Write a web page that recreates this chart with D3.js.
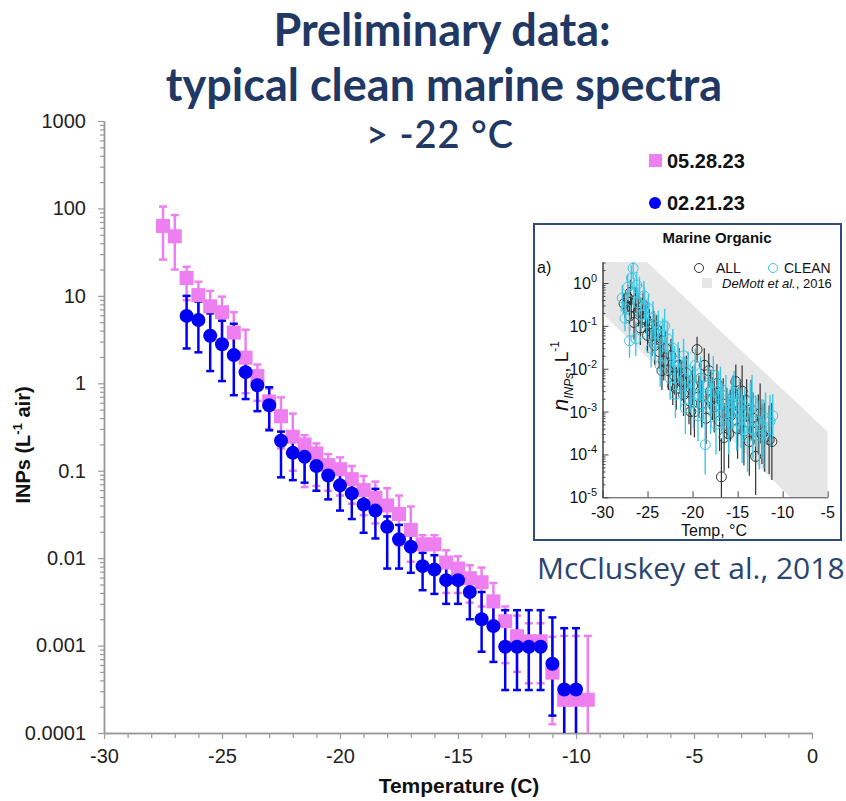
<!DOCTYPE html>
<html>
<head>
<meta charset="utf-8">
<script src="https://cdn.jsdelivr.net/npm/d3@7"></script>
<style>
  body { margin: 0; background: #fff; }
  svg { display: block; }
  .tick text { font-family: "Liberation Sans", Arial, sans-serif; fill: #222; }
</style>
</head>
<body>
<svg width="846" height="801"></svg>
<script>
// ---- main chart data: 05.28.23 (pink squares) ----
var pinkTemps = [-27.5, -27, -26.5, -26, -25.5, -25, -24.5, -24, -23.5, -23, -22.5, -22, -21.5, -21, -20.5, -20,
  -19.5, -19, -18.5, -18, -17.5, -17, -16.5, -16, -15.5, -15, -14.5, -14, -13.5, -13, -12.5, -12, -11.5, -11,
  -10.5, -10, -9.5];
var pinkValues = [63, 48, 16, 10.2, 7.6, 6.5, 3.8, 1.96, 1.21, 0.62, 0.42, 0.245, 0.20, 0.158, 0.116, 0.104,
  0.080, 0.060, 0.049, 0.040, 0.032, 0.021, 0.0144, 0.0144, 0.0089, 0.0076, 0.0059, 0.0053, 0.0032, 0.0019,
  0.00128, 0.00112, 0.00112, 0.00049, 0.00024, 0.00024, 0.00024];
var pinkUpper = [105, 84, 21.5, 14.5, 11.4, 9.8, 6.5, 4.1, 1.64, 0.87, 0.69, 0.45, 0.255, 0.205, 0.155, 0.142,
  0.113, 0.087, 0.075, 0.063, 0.052, 0.039, 0.0183, 0.0183, 0.0123, 0.0105, 0.0083, 0.0078, 0.0052, 0.0028,
  0.0022, 0.0018, 0.0018, 0.00126, 0.00129, 0.00129, 0.00129];
var pinkLower = [26, 20, 8.9, 5.6, 4.0, 3.2, 2.0, 0.77, 0.63, 0.30, 0.18, 0.10, 0.065, 0.067, 0.059, 0.052,
  0.042, 0.031, 0.025, 0.020, 0.014, 0.0091, 0.0079, 0.0079, 0.0040, 0.0040, 0.0031, 0.0028, 0.0016, 0.00063,
  0.0005, 0.00037, 0.00037, 0.000126, 0.0001, 0.0001, 0.0001];

// ---- main chart data: 02.21.23 (blue circles) ----
var blueTemps = [-26.5, -26, -25.5, -25, -24.5, -24, -23.5, -23, -22.5, -22, -21.5, -21, -20.5, -20, -19.5, -19,
  -18.5, -18, -17.5, -17, -16.5, -16, -15.5, -15, -14.5, -14, -13.5, -13, -12.5, -12, -11.5, -11, -10.5, -10];
var blueValues = [5.9, 5.3, 3.5, 2.8, 2.1, 1.34, 0.95, 0.56, 0.22, 0.16, 0.144, 0.113, 0.088, 0.068, 0.055, 0.041,
  0.035, 0.0228, 0.0164, 0.0135, 0.0081, 0.0074, 0.0056, 0.0056, 0.0041, 0.0020, 0.00167, 0.00097, 0.00097,
  0.00097, 0.00097, 0.00062, 0.000315, 0.000315];
var blueUpper = [10, 8.6, 6.3, 5.2, 4.8, 2.1, 1.26, 0.90, 0.28, 0.22, 0.20, 0.158, 0.126, 0.10, 0.079, 0.060,
  0.062, 0.030, 0.024, 0.019, 0.0115, 0.0108, 0.0079, 0.0079, 0.0054, 0.0041, 0.0028, 0.00254, 0.00254,
  0.00254, 0.00254, 0.0021, 0.00158, 0.00158];
var blueLower = [2.5, 2.26, 1.38, 1.06, 0.73, 0.66, 0.48, 0.29, 0.084, 0.078, 0.073, 0.059, 0.047, 0.035, 0.028,
  0.0195, 0.0168, 0.0076, 0.0076, 0.0068, 0.0043, 0.0039, 0.0030, 0.0030, 0.0020, 0.00085, 0.00065, 0.00031,
  0.00031, 0.00031, 0.00031, 0.000158, 0.0001, 0.0001];

var yTicks = [0.0001, 0.001, 0.01, 0.1, 1, 10, 100, 1000];
var yTickLabels = ["0.0001", "0.001", "0.01", "0.1", "1", "10", "100", "1000"];
var xTicks = [-30, -25, -20, -15, -10, -5, 0];
var xTickLabels = ["-30", "-25", "-20", "-15", "-10", "-5", "0"];

// ---- inset (McCluskey et al., 2018) data ----
var allTemps = [-27.6, -27.2, -27.0, -26.8, -26.5, -26.3, -26.0, -25.8, -25.5, -25.2, -25.0, -24.8, -24.5, -24.2,
  -24.0, -23.7, -23.5, -23.2, -23.0, -22.7, -22.4, -22.0, -21.8, -21.5, -21.2, -21.0, -20.7, -20.4, -20.0, -19.8,
  -19.5, -19.3, -19.0, -18.7, -18.5, -18.2, -18.0, -17.6, -17.3, -17.0, -16.8, -16.5, -16.2, -16.0, -15.5, -15.2,
  -15.0, -14.7, -14.3, -14.0, -13.7, -13.3, -13.0, -12.7, -12.3, -12.0, -11.5, -11.2,
  -26.9, -25.6, -24.3, -23.4, -22.2, -21.4, -20.2, -19.1, -17.8, -16.6, -15.8, -14.5, -13.5, -12.5];
var allValues = [0.33, 0.45, 0.17, 0.28, 0.12, 0.40, 0.22, 0.09, 0.30, 0.15, 0.06, 0.11, 0.05, 0.035, 0.08, 0.025,
  0.045, 0.015, 0.03, 0.009, 0.02, 0.007, 0.0035, 0.012, 0.005, 0.0025, 0.008, 0.0018, 0.004, 0.001, 0.028, 0.0022,
  0.0015, 0.012, 0.0007, 0.009, 0.003, 0.0013, 0.0045, 0.0006, 0.00003, 0.00025, 0.0009, 0.0003, 0.0022, 0.005,
  0.0004, 0.0012, 0.00035, 0.0018, 0.0002, 0.0007, 0.00009, 0.0005, 0.0003, 0.00025, 0.00022, 0.0002,
  0.6, 0.2, 0.1, 0.009, 0.004, 0.0065, 0.001, 0.006, 0.002, 0.0015, 0.0008, 0.003, 0.0011, 0.0009];
var allErr = [0.25, 0.3, 0.35, 0.3, 0.4, 0.3, 0.35, 0.4, 0.3, 0.35, 0.4, 0.35, 0.4, 0.45, 0.35, 0.4, 0.35, 0.45,
  0.4, 0.45, 0.4, 0.45, 0.5, 0.4, 0.45, 0.5, 0.4, 0.55, 0.45, 0.6, 0.3, 0.5, 0.55, 0.4, 0.6, 0.4, 0.5, 0.6, 0.45,
  0.7, 0.9, 0.8, 0.6, 0.8, 0.5, 0.4, 0.7, 0.6, 0.8, 0.5, 0.8, 0.6, 0.9, 0.7, 0.7, 0.8, 0.8, 0.9,
  0.3, 0.35, 0.35, 0.45, 0.45, 0.4, 0.55, 0.4, 0.5, 0.6, 0.6, 0.6, 0.7, 0.7];

var cleanTemps = [-27.8, -27.4, -27.2, -27.0, -26.8, -26.6, -26.5, -26.3, -26.1, -25.9, -25.7, -25.4, -25.1, -24.9,
  -24.6, -24.4, -24.1, -23.8, -23.6, -23.3, -23.0, -22.8, -22.5, -22.2, -21.9, -21.6, -21.3, -21.0, -20.8, -20.5,
  -20.2, -19.9, -19.7, -19.4, -19.1, -18.8, -18.6, -18.3, -18.0, -17.7, -17.4, -17.1, -16.9, -16.6, -16.3, -16.0,
  -15.7, -15.4, -15.1, -14.8, -14.5, -14.2, -13.9, -13.6, -13.3, -13.0, -12.6, -12.3, -11.9, -11.4, -11.1,
  -27.5, -26.2, -25.3, -24.2, -23.1, -22.0, -20.9, -19.8, -18.9, -17.9, -16.8, -15.6, -14.6, -13.4, -12.1];
var cleanValues = [0.45, 0.25, 0.8, 0.045, 1.3, 2.2, 0.6, 0.05, 0.35, 0.7, 0.18, 0.5, 0.12, 0.25, 0.03, 0.15,
  0.07, 0.1, 0.012, 0.06, 0.02, 0.05, 0.006, 0.03, 0.0025, 0.015, 0.004, 0.02, 0.0012, 0.009, 0.003, 0.0016, 0.012,
  0.0008, 0.006, 0.0022, 0.00017, 0.004, 0.0012, 0.007, 0.0005, 0.0025, 0.0035, 0.0009, 0.0018, 0.0005, 0.001,
  0.0028, 0.0006, 0.0015, 0.0004, 0.0009, 0.00025, 0.0012, 0.0004, 0.0006, 0.00028, 0.0004, 0.0007, 0.0006, 0.0008,
  0.15, 0.9, 0.3, 0.04, 0.1, 0.012, 0.006, 0.004, 0.0015, 0.003, 0.0012, 0.0016, 0.0007, 0.0018, 0.0003];
var cleanErr = [0.3, 0.35, 0.3, 0.4, 0.3, 0.25, 0.35, 0.4, 0.35, 0.3, 0.4, 0.35, 0.4, 0.35, 0.45, 0.4, 0.4, 0.35,
  0.5, 0.4, 0.45, 0.4, 0.5, 0.45, 0.55, 0.45, 0.5, 0.4, 0.6, 0.45, 0.5, 0.6, 0.4, 0.6, 0.5, 0.55, 0.7, 0.5, 0.6,
  0.45, 0.7, 0.55, 0.5, 0.65, 0.6, 0.7, 0.6, 0.5, 0.7, 0.6, 0.8, 0.6, 0.8, 0.6, 0.7, 0.6, 0.8, 0.7, 0.6, 0.6, 0.5,
  0.3, 0.3, 0.35, 0.4, 0.4, 0.45, 0.5, 0.5, 0.55, 0.5, 0.6, 0.6, 0.7, 0.6, 0.8];

var demottTemps = [-30, -5];
var demottUpper = [29, 0.00034];
var demottLower = [0.195, 0.0000014];

var insetYTicks = [1, 0.1, 0.01, 0.001, 0.0001, 0.00001];
var insetYExp = ["0", "-1", "-2", "-3", "-4", "-5"];
var insetXTicks = [-30, -25, -20, -15, -10, -5];

var navy = "#1f3864";
var pink = "#ee7ff0";
var blue = "#0000f5";
var cyan = "#3cc8e6";

var svg = d3.select("svg");

// ---- titles ----
var titleFont = "Lato, 'Noto Sans', sans-serif";
svg.append("text").attr("x", 442).attr("y", 46).attr("text-anchor", "middle")
  .style("font-family", titleFont).style("font-weight", "bold")
  .style("font-size", "45px").style("fill", navy).text("Preliminary data:");
svg.append("text").attr("x", 444).attr("y", 101).attr("text-anchor", "middle")
  .style("font-family", titleFont).style("font-weight", "bold")
  .style("font-size", "45px").style("fill", navy).text("typical clean marine spectra");
svg.append("text").attr("x", 440).attr("y", 148).attr("text-anchor", "middle")
  .style("font-family", titleFont).style("font-weight", "600")
  .style("font-size", "38px").style("letter-spacing", "1px").style("fill", navy).text("> -22 °C");

// ---- main chart ----
var x = d3.scaleLinear().domain([-30, 0]).range([104, 812]);
var y = d3.scaleLog().domain([1e-4, 1e3]).range([733, 121]);

var minorY = [];
yTicks.slice(0, -1).forEach(function(d) {
  for (var k = 2; k <= 9; k++) minorY.push(d * k);
});
var minorX = d3.range(-30, 1, 1).filter(function(d) { return d % 5 !== 0; });

var axisStyle = function(g) {
  g.select(".domain").attr("stroke", "#999").attr("stroke-width", 1.5);
  g.selectAll(".tick line").attr("stroke", "#999").attr("stroke-width", 1.2);
};

svg.append("g").attr("transform", "translate(104,0)")
  .call(d3.axisLeft(y).tickValues(minorY).tickFormat("").tickSize(4).tickSizeOuter(0))
  .call(axisStyle);
svg.append("g").attr("transform", "translate(104,0)")
  .call(d3.axisLeft(y).tickValues(yTicks).tickSize(6).tickPadding(12).tickSizeOuter(0)
    .tickFormat(function(d, i) { return yTickLabels[i]; }))
  .call(axisStyle)
  .selectAll("text").style("font-size", "20px");

svg.append("g").attr("transform", "translate(0,733)")
  .call(d3.axisBottom(x).tickValues(minorX).tickFormat("").tickSize(5).tickSizeOuter(0))
  .call(axisStyle);
svg.append("g").attr("transform", "translate(0,733)")
  .call(d3.axisBottom(x).tickValues(xTicks).tickSize(6).tickPadding(10).tickSizeOuter(0)
    .tickFormat(function(d, i) { return xTickLabels[i]; }))
  .call(axisStyle)
  .selectAll("text").style("font-size", "20px");

// axis titles
var sans = "'Liberation Sans', Arial, sans-serif";
svg.append("text").attr("transform", "translate(30,445) rotate(-90)").attr("text-anchor", "middle")
  .style("font-family", sans).style("font-weight", "bold")
  .style("font-size", "20px").style("fill", "#111")
  .call(function(t) {
    t.append("tspan").text("INPs (L");
    t.append("tspan").attr("dy", -8).style("font-size", "13px").text("-1");
    t.append("tspan").attr("dy", 8).text(" air)");
  });
svg.append("text").attr("x", 459).attr("y", 793).attr("text-anchor", "middle")
  .style("font-family", sans).style("font-weight", "bold")
  .style("font-size", "21px").style("fill", "#111").text("Temperature (C)");

function series(temps, values) {
  return temps.map(function(t, i) { return { t: t, v: values[i], i: i }; });
}
var pinkData = series(pinkTemps, pinkValues);
var blueData = series(blueTemps, blueValues);

function errorBars(data, lower, upper, color) {
  var g = svg.append("g").attr("stroke", color).attr("stroke-width", 2.5);
  g.selectAll(".bar").data(data).enter().append("line")
    .attr("x1", function(d) { return x(d.t); }).attr("x2", function(d) { return x(d.t); })
    .attr("y1", function(d) { return y(lower[d.i]); })
    .attr("y2", function(d) { return y(upper[d.i]); });
  g.selectAll(".capHi").data(data).enter().append("line")
    .attr("x1", function(d) { return x(d.t) - 4; }).attr("x2", function(d) { return x(d.t) + 4; })
    .attr("y1", function(d) { return y(upper[d.i]); }).attr("y2", function(d) { return y(upper[d.i]); });
  g.selectAll(".capLo").data(data.filter(function(d) { return lower[d.i] > 1e-4; })).enter().append("line")
    .attr("x1", function(d) { return x(d.t) - 4; }).attr("x2", function(d) { return x(d.t) + 4; })
    .attr("y1", function(d) { return y(lower[d.i]); }).attr("y2", function(d) { return y(lower[d.i]); });
}

errorBars(pinkData, pinkLower, pinkUpper, pink);
errorBars(blueData, blueLower, blueUpper, blue);

svg.append("g").selectAll("rect").data(pinkData).enter().append("rect")
  .attr("x", function(d) { return x(d.t) - 7; }).attr("y", function(d) { return y(d.v) - 7; })
  .attr("width", 14).attr("height", 14).attr("fill", pink);
svg.append("g").selectAll("circle").data(blueData).enter().append("circle")
  .attr("cx", function(d) { return x(d.t); }).attr("cy", function(d) { return y(d.v); })
  .attr("r", 7).attr("fill", blue);

// legend
svg.append("rect").attr("x", 649).attr("y", 154).attr("width", 13).attr("height", 13).attr("fill", pink);
svg.append("text").attr("x", 667).attr("y", 168)
  .style("font-family", sans).style("font-weight", "bold")
  .style("font-size", "20px").style("fill", "#111").text("05.28.23");
svg.append("circle").attr("cx", 655).attr("cy", 203).attr("r", 6).attr("fill", blue);
svg.append("text").attr("x", 667).attr("y", 210)
  .style("font-family", sans).style("font-weight", "bold")
  .style("font-size", "20px").style("fill", "#111").text("02.21.23");

// ---- inset ----
svg.append("rect").attr("x", 534).attr("y", 224).attr("width", 307).attr("height", 316)
  .attr("fill", "#fff").attr("stroke", "#2f4b7c").attr("stroke-width", 2);

var ix = d3.scaleLinear().domain([-30, -5]).range([602.5, 827.7]);
var iy = d3.scaleLog().domain([1e-5, Math.pow(10, 0.49)]).range([497.3, 262]);

svg.append("clipPath").attr("id", "insetClip").append("rect")
  .attr("x", 602.5).attr("y", 262).attr("width", 225.2).attr("height", 235.3);

var band = d3.area()
  .x(function(d) { return ix(d.t); })
  .y0(function(d) { return iy(d.lo); })
  .y1(function(d) { return iy(d.hi); });
var bandData = demottTemps.map(function(t, i) { return { t: t, lo: demottLower[i], hi: demottUpper[i] }; });

var inset = svg.append("g");
inset.append("path").datum(bandData).attr("d", band).attr("fill", "#e6e6e6")
  .attr("clip-path", "url(#insetClip)");

function insetSeries(temps, values, errs, color, width) {
  var data = temps.map(function(t, i) { return { t: t, v: values[i], e: errs[i] }; });
  var g = inset.append("g").attr("clip-path", "url(#insetClip)");
  g.selectAll("line").data(data).enter().append("line")
    .attr("x1", function(d) { return ix(d.t); }).attr("x2", function(d) { return ix(d.t); })
    .attr("y1", function(d) { return iy(d.v / Math.pow(10, d.e)); })
    .attr("y2", function(d) { return iy(d.v * Math.pow(10, d.e)); })
    .attr("stroke", color).attr("stroke-width", width);
  g.selectAll("circle").data(data).enter().append("circle")
    .attr("cx", function(d) { return ix(d.t); }).attr("cy", function(d) { return iy(d.v); })
    .attr("r", 5).attr("fill", "none").attr("stroke", color).attr("stroke-width", 1);
}
insetSeries(allTemps, allValues, allErr, "#333", 1.2);
insetSeries(cleanTemps, cleanValues, cleanErr, cyan, 1.4);

var insetMinor = [];
insetYTicks.slice(1).forEach(function(d) {
  for (var k = 2; k <= 9; k++) insetMinor.push(d * k);
});
insetMinor.push(2, 3);

var insetAxis = function(g) {
  g.select(".domain").attr("stroke", "#444").attr("stroke-width", 1);
  g.selectAll(".tick line").attr("stroke", "#444");
};
inset.append("g").attr("transform", "translate(602.5,0)")
  .call(d3.axisRight(iy).tickValues(insetMinor).tickFormat("").tickSize(3).tickSizeOuter(0))
  .call(insetAxis);
inset.append("g").attr("transform", "translate(602.5,0)")
  .call(d3.axisRight(iy).tickValues(insetYTicks).tickFormat("").tickSize(6).tickSizeOuter(0))
  .call(insetAxis);
inset.append("g").attr("transform", "translate(0,497.3)")
  .call(d3.axisTop(ix).tickValues(insetXTicks).tickFormat("").tickSize(6).tickSizeOuter(0))
  .call(insetAxis);

inset.append("g").selectAll("text").data(insetYTicks).enter().append("text")
  .attr("x", 597).attr("y", function(d) { return iy(d) + 6; }).attr("text-anchor", "end")
  .style("font-family", sans).style("font-size", "16px").style("fill", "#111")
  .each(function(d, i) {
    var t = d3.select(this);
    t.append("tspan").text("10");
    t.append("tspan").attr("dy", -7).style("font-size", "11px").text(insetYExp[i]);
  });
inset.append("g").selectAll("text").data(insetXTicks).enter().append("text")
  .attr("x", function(d) { return ix(d); }).attr("y", 518).attr("text-anchor", "middle")
  .style("font-family", sans).style("font-size", "16px").style("fill", "#111")
  .text(function(d) { return d; });

inset.append("text").attr("x", 714).attr("y", 536).attr("text-anchor", "middle")
  .style("font-family", sans).style("font-size", "16px").style("fill", "#111").text("Temp, °C");
inset.append("text").attr("x", 717).attr("y", 243).attr("text-anchor", "middle")
  .style("font-family", sans).style("font-weight", "bold").style("font-size", "15px").style("fill", "#111")
  .text("Marine Organic");
inset.append("text").attr("x", 537).attr("y", 273)
  .style("font-family", sans).style("font-size", "16px").style("fill", "#111").text("a)");

inset.append("text").attr("transform", "translate(568,376) rotate(-90)").attr("text-anchor", "middle")
  .style("font-family", sans).style("font-size", "19px").style("fill", "#111")
  .call(function(t) {
    t.append("tspan").style("font-style", "italic").style("font-size", "22px").text("n");
    t.append("tspan").attr("dy", 5).style("font-style", "italic").style("font-size", "12px").text("INPs");
    t.append("tspan").attr("dy", -5).text(", L");
    t.append("tspan").attr("dy", -9).style("font-size", "12px").text("-1");
  });

// inset legend
inset.append("circle").attr("cx", 699).attr("cy", 268).attr("r", 4.5).attr("fill", "none").attr("stroke", "#333");
inset.append("text").attr("x", 716).attr("y", 273).style("font-family", sans).style("font-size", "14px")
  .style("fill", "#111").text("ALL");
inset.append("circle").attr("cx", 773).attr("cy", 268).attr("r", 4.5).attr("fill", "none").attr("stroke", cyan);
inset.append("text").attr("x", 784).attr("y", 273).style("font-family", sans).style("font-size", "14px")
  .style("fill", "#111").text("CLEAN");
inset.append("rect").attr("x", 702).attr("y", 278).attr("width", 10).attr("height", 10).attr("fill", "#e6e6e6");
inset.append("text").attr("x", 722).attr("y", 288).style("font-family", sans).style("font-size", "13px")
  .style("fill", "#111")
  .call(function(t) {
    t.append("tspan").style("font-style", "italic").text("DeMott et al.");
    t.append("tspan").text(", 2016");
  });

svg.append("text").attr("x", 537).attr("y", 579)
  .style("font-family", "'Open Sans', 'Noto Sans', sans-serif").style("font-size", "30px")
  .style("fill", "#2a4470").text("McCluskey et al., 2018");
</script>
</body>
</html>
